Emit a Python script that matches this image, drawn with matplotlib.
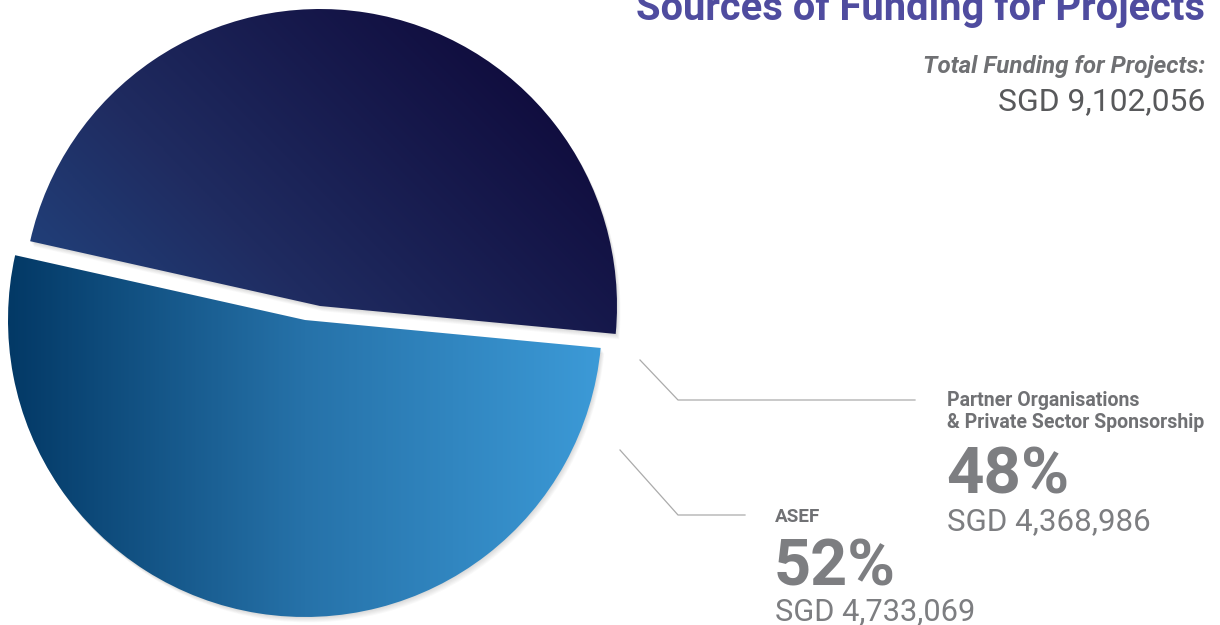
import numpy as np
import matplotlib
matplotlib.use("Agg")
import matplotlib.pyplot as plt
import matplotlib.patches as mpatches
from matplotlib.colors import LinearSegmentedColormap

SOURCES = ["ASEF", "Partner Organisations\n& Private Sector Sponsorship"]
AMOUNTS = [4733069, 4368986]
PCT_LABELS = ["52%", "48%"]
AMOUNT_LABELS = ["SGD 4,733,069", "SGD 4,368,986"]
TITLE = "Sources of Funding for Projects"
TOTAL_CAPTION = "Total Funding for Projects:"
TOTAL_LABEL = "SGD 9,102,056"

W, H = 1220, 625
FONT = ["Roboto", "DejaVu Sans"]
GREY_TXT = "#7d7e81"

# gradient ends per slice
CMAPS = [LinearSegmentedColormap.from_list("asef", ["#033966", "#2672a9", "#3c9ad7"]),
         LinearSegmentedColormap.from_list("partner", ["#245d9e", "#1f2b60", "#0b0232"])]

CENTER = (305, 305)
RADIUS = 297
EXPLODE = [(0, 0), (15, 14)]   # partner slice pushed up-right
MID_ASEF = 261.0               # direction the ASEF slice points to

fig = plt.figure(figsize=(W / 100, H / 100), dpi=100)
fig.patch.set_facecolor("white")
ax = fig.add_axes([0, 0, 1, 1])
ax.set_xlim(0, W); ax.set_ylim(0, H)
ax.set_aspect("equal"); ax.axis("off")
renderer = fig.canvas.get_renderer()

shares = np.array(AMOUNTS, dtype=float) / sum(AMOUNTS)
spans = shares * 360.0
t1 = MID_ASEF - spans[0] / 2
angles = [(t1, t1 + spans[0]), (t1 + spans[0], t1 + 360.0)]

for i, (a0, a1) in enumerate(angles):
    cx, cy = CENTER[0] + EXPLODE[i][0], CENTER[1] + EXPLODE[i][1]
    # soft drop shadow
    for k in range(1, 7):
        sh = mpatches.Wedge((cx + 0.6 * k, cy - 0.9 * k), RADIUS, a0, a1,
                            facecolor="#000000", edgecolor="none", alpha=0.025, zorder=1)
        ax.add_patch(sh)
    w = mpatches.Wedge((cx, cy), RADIUS, a0, a1, facecolor="none", edgecolor="none", zorder=3)
    ax.add_patch(w)
    x0, x1 = cx - RADIUS, cx + RADIUS
    y0, y1 = cy - RADIUS, cy + RADIUS
    gx, gy = np.meshgrid(np.linspace(0, 1, 300), np.linspace(0, 1, 300))
    t = gx if i == 0 else (gx + gy) / 2
    img = ax.imshow(CMAPS[i](t), extent=(x0, x1, y0, y1), origin="lower",
                    interpolation="bilinear", zorder=2)
    img.set_clip_path(w)

# leader lines
LINE_C = "#ababab"
ax.plot([640, 678, 915], [265, 225, 225], color=LINE_C, lw=0.9, zorder=4)
ax.plot([620, 678, 745], [175, 110, 110], color=LINE_C, lw=0.9, zorder=4)


def fit(txt, width_px):
    # shrink/grow a text so it spans the same width as in the reference
    wpx = txt.get_window_extent(renderer).width
    txt.set_fontsize(txt.get_fontsize() * width_px / wpx)
    return txt


# title and total
fit(ax.text(1205, 605, TITLE, ha="right", va="baseline", fontsize=30, fontweight="bold",
            color="#4f4c9f", family=FONT), 568)
fit(ax.text(1205, 552, TOTAL_CAPTION, ha="right", va="baseline", fontsize=14,
            fontweight="bold", style="italic", color="#6f7073", family=FONT), 283)
fit(ax.text(1205, 515, TOTAL_LABEL, ha="right", va="baseline", fontsize=20,
            color="#58595b", family=FONT), 207)

# slice labels: (x, name baseline, pct baseline, amount baseline, widths)
LABEL_POS = [(775, 103, 40, 5, (45, 122, 200)), (947, 197, 132, 95, (258, 123, 203))]
for i, (lx, yn, yp, ya, wd) in enumerate(LABEL_POS):
    fit(ax.text(lx, yn, SOURCES[i], ha="left", va="baseline", fontsize=13, fontweight="bold",
                color="#707174", family=FONT, linespacing=1.2), wd[0])
    fit(ax.text(lx - 1, yp, PCT_LABELS[i], ha="left", va="baseline", fontsize=48,
                fontweight="bold", color=GREY_TXT, family=FONT), wd[1])
    fit(ax.text(lx, ya, AMOUNT_LABELS[i], ha="left", va="baseline", fontsize=22,
                color=GREY_TXT, family=FONT), wd[2])

fig.savefig("out.png", dpi=100, facecolor="white")
